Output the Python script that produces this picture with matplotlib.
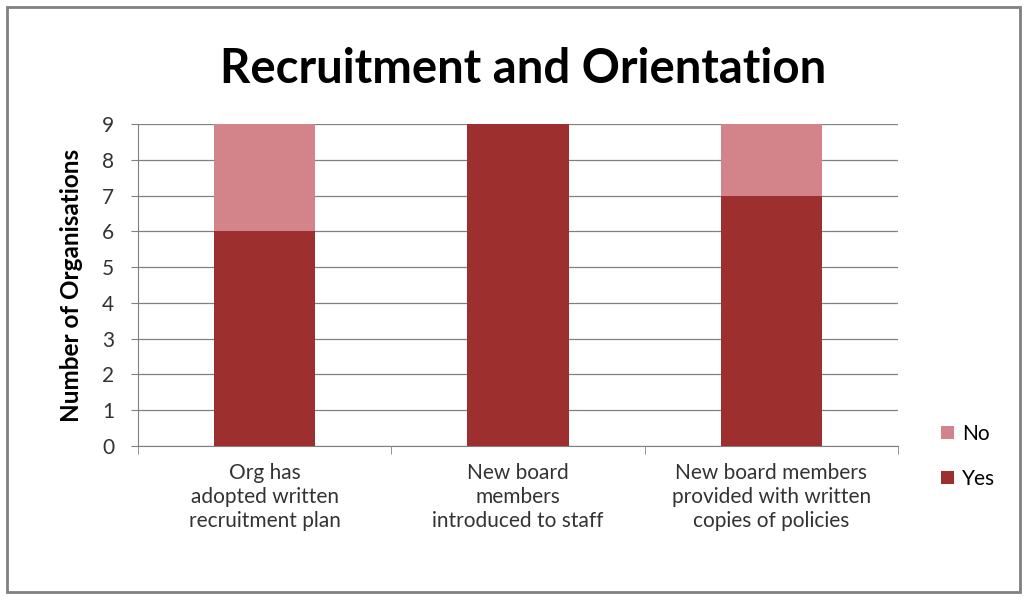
import numpy as np
import matplotlib.pyplot as plt
from matplotlib.patches import Rectangle

# Dados do gráfico
categorias = ['Org has\nadopted written\nrecruitment plan',
              'New board\nmembers\nintroduced to staff',
              'New board members\nprovided with written\ncopies of policies']
sim = [6, 9, 7]
nao = [3, 0, 2]

cor_sim = '#9e2f2f'
cor_nao = '#d3848a'

plt.rcParams['font.family'] = ['Lato', 'DejaVu Sans']

fig = plt.figure(figsize=(10.25, 5.97), dpi=100)
ax = fig.add_axes([0.1346, 0.253, 0.7415, 0.539])

x = np.arange(len(categorias))
ax.bar(x, sim, width=0.4, color=cor_sim, label='Yes', zorder=3)
ax.bar(x, nao, width=0.4, bottom=sim, color=cor_nao, label='No', zorder=3)

# Eixos e grade
ax.set_xlim(-0.5, 2.5)
ax.set_ylim(0, 9)
ax.set_yticks(range(10))
ax.tick_params(axis='y', labelsize=15, length=5, color='#808080', pad=12, labelcolor='#333333')
ax.yaxis.grid(True, color='#808080', linewidth=0.9, zorder=0)
ax.set_axisbelow(True)

ax.set_xticks(x)
ax.set_xticklabels(categorias, fontsize=15, color='#333333', linespacing=1.25)
ax.tick_params(axis='x', length=0, pad=12)
ax.set_xticks([-0.5, 0.5, 1.5, 2.5], minor=True)
ax.tick_params(axis='x', which='minor', length=6, color='#808080')

for lado in ['top', 'right']:
    ax.spines[lado].set_visible(False)
for lado in ['left', 'bottom']:
    ax.spines[lado].set_color('#808080')

ax.set_ylabel('Number of Organisations', fontsize=17.5, fontweight='bold', labelpad=14)

fig.text(0.51, 0.885, 'Recruitment and Orientation', fontsize=34, fontweight='bold',
         ha='center', va='center')

# Legenda com "No" acima de "Yes"
handles, labels = ax.get_legend_handles_labels()
fig.legend(handles[::-1], labels[::-1], loc='center left', bbox_to_anchor=(0.9, 0.235),
           frameon=False, fontsize=15, handlelength=0.6, handleheight=0.6,
           handletextpad=0.4, labelspacing=1.2)

# Moldura externa
fig.patches.append(Rectangle((0.007, 0.008), 0.988, 0.98, transform=fig.transFigure,
                             fill=False, edgecolor='#808080', linewidth=2))

fig.savefig('out.png', dpi=100)
